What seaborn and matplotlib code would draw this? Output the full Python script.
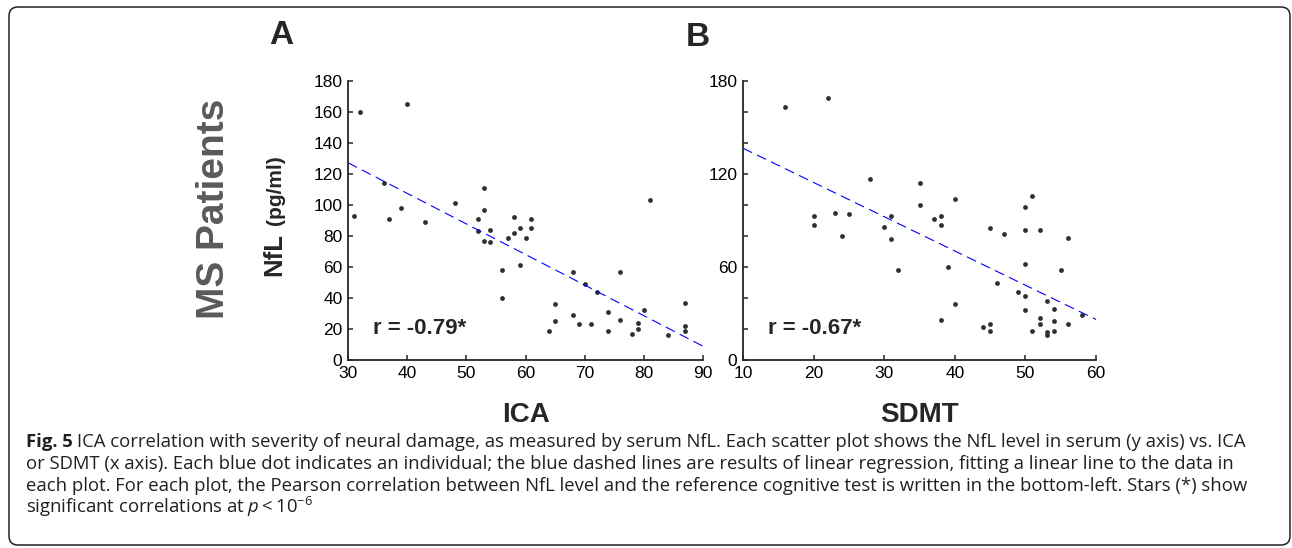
import matplotlib
matplotlib.use('Agg')
import matplotlib.pyplot as plt
import matplotlib.transforms as mtransforms
from matplotlib.patches import FancyBboxPatch
import seaborn as sns
import pandas as pd

# panel A: ICA score vs serum NfL
ica_score = [32, 31, 40, 36, 37, 39, 43, 48, 53, 53, 52, 52, 53, 54, 54, 56, 56, 57, 58, 58,
             59, 59, 60, 61, 61, 64, 65, 65, 68, 68, 69, 70, 71, 72, 74, 74, 76, 76, 78, 79,
             79, 80, 81, 84, 87, 87, 87]
ica_nfl = [160, 93, 165, 114, 91, 98, 89, 101, 111, 97, 91, 83, 77, 84, 76, 58, 40, 79, 92, 82,
           85, 61, 79, 91, 85, 19, 36, 25, 57, 29, 23, 49, 23, 44, 31, 19, 57, 26, 17, 24,
           20, 32, 103, 16, 37, 22, 19]

# panel B: SDMT score vs serum NfL
sdmt_score = [16, 22, 20, 20, 23, 24, 25, 28, 30, 31, 31, 32, 35, 35, 37, 38, 38, 38, 39, 40,
              40, 44, 45, 45, 45, 46, 47, 49, 50, 50, 50, 50, 50, 51, 51, 52, 52, 52, 53, 53,
              53, 54, 54, 54, 55, 56, 56, 58]
sdmt_nfl = [163, 169, 93, 87, 95, 80, 94, 117, 86, 93, 78, 58, 114, 100, 91, 93, 87, 26, 60, 104,
            36, 21, 85, 23, 19, 50, 81, 44, 99, 84, 62, 41, 32, 106, 19, 84, 27, 23, 38, 18,
            16, 33, 25, 19, 58, 79, 23, 29]

panel_letters = ['A', 'B']
x_names = ['ICA', 'SDMT']
r_texts = ['r = -0.79*', 'r = -0.67*']
x_ranges = [(30, 90), (10, 60)]
y_ticks = list(range(0, 181, 20))
y_labelled = [list(range(0, 181, 20)), [0, 60, 120, 180]]

caption = [
    'ICA correlation with severity of neural damage, as measured by serum NfL. Each scatter plot shows the NfL level in serum (y axis) vs. ICA',
    'or SDMT (x axis). Each blue dot indicates an individual; the blue dashed lines are results of linear regression, fitting a linear line to the data in',
    'each plot. For each plot, the Pearson correlation between NfL level and the reference cognitive test is written in the bottom-left. Stars (*) show',
    r'significant correlations at $p < 10^{-6}$',
]

sns.set_style('ticks')
plt.rcParams['font.family'] = ['Liberation Sans', 'DejaVu Sans']
plt.rcParams['mathtext.fontset'] = 'custom'
plt.rcParams['mathtext.rm'] = 'Open Sans'
plt.rcParams['mathtext.it'] = 'Open Sans:italic'

W, H = 1292, 548
fig = plt.figure(figsize=(W / 100, H / 100), dpi=100)
dark = '#262626'

data = [pd.DataFrame({'score': ica_score, 'nfl': ica_nfl}),
        pd.DataFrame({'score': sdmt_score, 'nfl': sdmt_nfl})]
boxes = [(348, 703), (743, 1096)]
top, bottom = 81, 360

for i, df in enumerate(data):
    x0, x1 = boxes[i]
    ax = fig.add_axes([x0 / W, 1 - bottom / H, (x1 - x0) / W, (bottom - top) / H])
    ax.set_xlim(*x_ranges[i])
    ax.set_ylim(0, 180)
    sns.regplot(x='score', y='nfl', data=df, ax=ax, ci=None, truncate=False,
                scatter_kws=dict(s=12, color='#303030', linewidths=0, alpha=1),
                line_kws=dict(color='#0000ff', lw=0.8, ls=(0, (9, 5))))
    ax.set_xlim(*x_ranges[i])
    ax.set_ylim(0, 180)
    ax.set_xticks(range(x_ranges[i][0], x_ranges[i][1] + 1, 10))
    ax.set_yticks(y_ticks)
    ax.set_yticklabels([str(v) if v in y_labelled[i] else '' for v in y_ticks])
    sns.despine(ax=ax)
    for s in ['left', 'bottom']:
        ax.spines[s].set_linewidth(1.3)
        ax.spines[s].set_color(dark)
    ax.tick_params(direction='in', length=3.5, width=1.1, color=dark, labelcolor='black',
                   labelsize=12.5, pad=4)
    ax.set_xlabel(x_names[i], fontsize=20, fontweight='bold')
    ax.xaxis.set_label_coords(0.5, (bottom - 422) / (bottom - top))
    ax.xaxis.label.set_verticalalignment('baseline')
    ax.set_ylabel('')
    ax.text(x_ranges[i][0] + (4.2 if i == 0 else 3.6), 20.4, r_texts[i], fontsize=16,
            fontweight='bold', ha='left', va='center')

fig.text(281.5 / W, 1 - 36 / H, 'A', fontsize=24, fontweight='bold', ha='center', va='center')
fig.text(697.5 / W, 1 - 37 / H, 'B', fontsize=24, fontweight='bold', ha='center', va='center')
fig.text(214 / W, 1 - 209 / H, 'MS Patients', fontsize=28, fontweight='bold', color='#5a5a5a',
         rotation=90, ha='center', va='center')
fig.text(274 / W, 1 - 255 / H, 'NfL', fontsize=18.5, fontweight='bold', rotation=90,
         ha='center', va='center')
fig.text(276 / W, 1 - 190 / H, '(pg/ml)', fontsize=15, fontweight='bold', rotation=90,
         ha='center', va='center')

# caption
cap_font = ['Open Sans', 'DejaVu Sans']
cap_size = 13.3
baselines = [447, 469, 491, 513]
renderer = fig.canvas.get_renderer()
lead = fig.text(26 / W, 1 - baselines[0] / H, 'Fig. 5', fontsize=cap_size, fontweight='bold',
                family=cap_font, color='#231f20', va='baseline')
lead_w = lead.get_window_extent(renderer).width
fig.text((26 + lead_w + 4) / W, 1 - baselines[0] / H, caption[0], fontsize=cap_size,
         family=cap_font, color='#231f20', va='baseline')
for line, yb in zip(caption[1:], baselines[1:]):
    fig.text(26 / W, 1 - yb / H, line, fontsize=cap_size, family=cap_font, color='#231f20',
             va='baseline')

frame = FancyBboxPatch((9, H - 545), 1281, 538, boxstyle='round,pad=0,rounding_size=9',
                       transform=mtransforms.IdentityTransform(), fill=False,
                       edgecolor='#222222', linewidth=1.1)
fig.patches.append(frame)

fig.savefig('out.png', dpi=100)
